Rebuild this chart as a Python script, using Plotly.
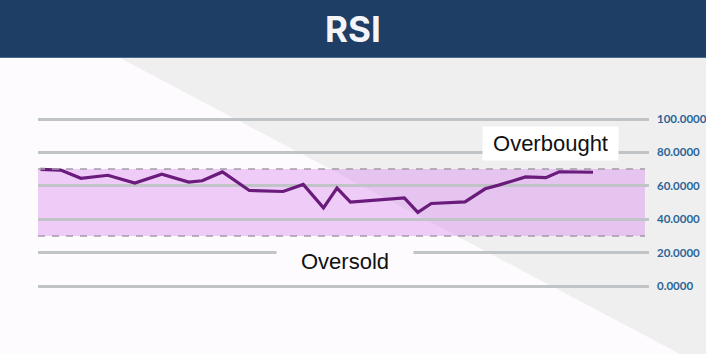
import plotly.graph_objects as go

# ---- data ----
session = [0, 3, 6, 10, 14, 18, 22, 24, 27, 31, 36, 39, 42, 44, 46, 54, 56, 58, 63, 66, 68, 72, 75, 77, 82]
rsi = [69.8, 69.4, 64.5, 66.3, 61.6, 67.0, 62.2, 63.0, 68.3, 57.2, 56.6, 60.8, 46.8,
       58.6, 50.2, 52.8, 44.1, 49.4, 50.4, 58.2, 60.4, 65.3, 64.9, 68.4, 68.1]
tick_vals = [0, 20, 40, 60, 80, 100]
tick_text = ["0.0000", "20.0000", "40.0000", "60.0000", "80.0000", "100.0000"]
overbought_level = 70
oversold_level = 30
title_text = "RSI"
label_overbought = "Overbought"
label_oversold = "Oversold"

W, H = 706, 354
PL, PR = 38, 649  # plot area left/right (px)

def py(px):
    return 1 - px / H

def pxx(px):
    return px / W

fig = go.Figure()

fig.add_trace(go.Scatter(
    x=session, y=rsi, mode="lines",
    line=dict(color="#6a1b7c", width=3.2),
    hoverinfo="skip", showlegend=False,
))

band_end = (645 - PL) / (PR - PL)

shapes = [
    # white diagonal background region
    dict(type="path", xref="paper", yref="paper", layer="below",
         path=f"M 0,{py(58)} L {pxx(120)},{py(58)} L {pxx(680)},0 L 0,0 Z",
         fillcolor="#fdfbfd", line=dict(width=0)),
    # title bar
    dict(type="rect", xref="paper", yref="paper", layer="below",
         x0=0, x1=1, y0=py(58), y1=1, fillcolor="#1f3e65", line=dict(width=0)),
    dict(type="line", xref="paper", yref="paper", layer="below",
         x0=0, x1=1, y0=py(57.5), y1=py(57.5), line=dict(color="#4a6b90", width=1)),
    # RSI band
    dict(type="rect", xref="x domain", yref="y", layer="below",
         x0=0, x1=band_end, y0=oversold_level, y1=overbought_level,
         fillcolor="rgba(214,128,236,0.38)", line=dict(width=0)),
    dict(type="line", xref="x domain", yref="y", layer="above",
         x0=0, x1=band_end, y0=overbought_level, y1=overbought_level,
         line=dict(color="#a49aa8", width=1.5, dash="7px,7px")),
    dict(type="line", xref="x domain", yref="y", layer="above",
         x0=0, x1=band_end, y0=oversold_level, y1=oversold_level,
         line=dict(color="#a49aa8", width=1.5, dash="7px,7px")),
]

annotations = [
    dict(text=f"<b>{title_text}</b>", xref="paper", yref="paper", x=0.5, y=py(29),
         showarrow=False, font=dict(family="Inter", size=35, color="#f3f5f8"),
         xanchor="center", yanchor="middle"),
    dict(text=label_overbought, xref="paper", yref="paper", x=pxx(550.5), y=py(143.5),
         showarrow=False, font=dict(family="Liberation Sans", size=22, color="#111111"),
         bgcolor="#ffffff", width=135, height=33, xanchor="center", yanchor="middle", borderpad=0),
    dict(text=label_oversold, xref="paper", yref="paper", x=pxx(345), y=py(261),
         showarrow=False, font=dict(family="Liberation Sans", size=22, color="#111111"),
         bgcolor="#fdfbfd", width=136, height=30, xanchor="center", yanchor="middle", borderpad=0),
]

# y mapping: 0 -> 286px, 100 -> 119px
span = 100 / ((286 - 119) / H)
ymin = -(1 - 286 / H) * span
ymax = ymin + span
step = 552.5 / 82
xmin = -(40.5 - PL) / step
xmax = 82 + (PR - 593) / step

fig.update_layout(
    width=W, height=H,
    margin=dict(l=0, r=0, t=0, b=0, pad=0),
    paper_bgcolor="#efeff0",
    plot_bgcolor="rgba(0,0,0,0)",
    shapes=shapes,
    annotations=annotations,
    xaxis=dict(domain=[PL / W, PR / W], range=[xmin, xmax], showgrid=False, zeroline=False,
               showticklabels=False, showline=False, fixedrange=True),
    yaxis=dict(domain=[0, 1], range=[ymin, ymax], side="right", tickvals=tick_vals,
               ticktext=tick_text,
               showgrid=True, gridcolor="#c0c4c7", gridwidth=2.5, zeroline=False,
               showline=False, ticks="", ticklabelstandoff=7,
               tickfont=dict(family="Lato", size=11.5, color="#2a6597", weight="bold"),
               fixedrange=True),
    showlegend=False,
)

fig.write_html("out.html")
